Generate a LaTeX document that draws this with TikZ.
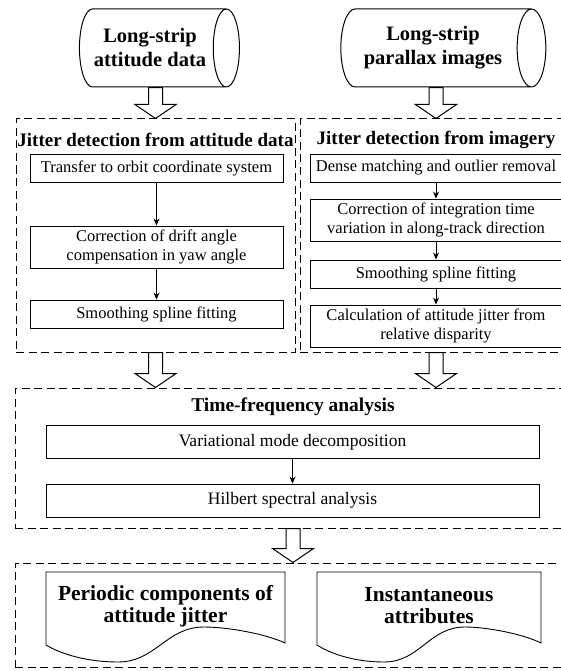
\documentclass[tikz,border=0pt]{standalone}
\usepackage{fontspec}
\setmainfont{Liberation Serif}
\usetikzlibrary{shapes.geometric,arrows.meta,calc}

% hollow down arrow between two groups: #1 top point, #2 tip point
\newcommand{\bigdown}[2]{%
  \draw[blockarrow] ($(#1)+(-7,0)$) -- ($(#2)+(-7,-14)$) -- ($(#2)+(-20.5,-14)$) -- (#2)
    -- ($(#2)+(20.5,-14)$) -- ($(#2)+(7,-14)$) -- ($(#1)+(7,0)$) -- cycle;}

\begin{document}
\begin{tikzpicture}[
    x=1pt, y=-1pt,
    every node/.style={font=\fontsize{16.5}{18.5}\selectfont},
    source/.style={cylinder, draw, line width=1pt, shape aspect=0.58,
                   minimum width=78pt, align=center,
                   font=\bfseries\fontsize{20.5}{24}\selectfont},
    group/.style={draw, line width=1pt, dash pattern=on 8pt off 4.5pt, inner sep=0pt},
    stepbox/.style={draw, line width=0.9pt, align=center, inner sep=0pt},
    wide/.style={stepbox, minimum width=493pt, minimum height=33pt,
                 font=\fontsize{17.5}{19}\selectfont},
    head/.style={font=\bfseries\fontsize{19}{22}\selectfont},
    result/.style={align=center, font=\bfseries\fontsize{21.5}{22}\selectfont},
    docline/.style={draw, line width=0.9pt},
    edge/.style={-{Stealth[length=7pt,width=6pt]}, line width=0.9pt},
    blockarrow/.style={draw, line width=1pt, fill=white}
]
    \clip (0,0) rectangle (561,671);
    % input data
    \node[source, minimum height=160pt] (cylAtt) at (150,48) {Long-strip\\attitude data};
    \node[source, minimum height=205pt] (cylImg) at (433,48) {Long-strip\\parallax images};
    % detection groups
    \node[group, minimum width=279pt, minimum height=233pt] (gAtt) at (155.5,235.5) {};
    \node[group, minimum width=272pt, minimum height=233pt] (gImg) at (436,235.5) {};
    \node[head] (hAtt) at (155.5,140) {Jitter detection from attitude data};
    \node[head] (hImg) at (436,140) {Jitter detection from imagery};
    % attitude steps
    \node[stepbox, minimum width=253pt, minimum height=28pt] (a1) at (156.5,168) {Transfer to orbit coordinate system};
    \node[stepbox, minimum width=253pt, minimum height=42pt] (a2) at (156.5,247) {Correction of drift angle\\compensation in yaw angle};
    \node[stepbox, minimum width=253pt, minimum height=28pt] (a3) at (156.5,314) {Smoothing spline fitting};
    % imagery steps
    \node[stepbox, minimum width=252pt, minimum height=28pt] (i1) at (436,168) {Dense matching and outlier removal};
    \node[stepbox, minimum width=252pt, minimum height=42pt] (i2) at (436,220) {Correction of integration time\\variation in along-track direction};
    \node[stepbox, minimum width=252pt, minimum height=28pt] (i3) at (436,274) {Smoothing spline fitting};
    \node[stepbox, minimum width=252pt, minimum height=42pt] (i4) at (436,326) {Calculation of attitude jitter from\\relative disparity};
    % time-frequency group
    \node[group, minimum width=556pt, minimum height=140pt] (gTF) at (293,458) {};
    \node[head, font=\bfseries\fontsize{19.5}{22}\selectfont] (hTF) at (293,407) {Time-frequency analysis};
    \node[wide] (t1) at (292.5,442) {Variational mode decomposition};
    \node[wide] (t2) at (292.5,500.5) {Hilbert spectral analysis};
    % results group
    \node[group, minimum width=556pt, minimum height=104pt] (gOut) at (293,615) {};
    \draw[docline] (46,645) -- (46,572) -- (285,572) -- (285,643)
        .. controls (266,634) and (228,627) .. (204,627)
        .. controls (166,627) and (156,662) .. (118,662)
        .. controls (89,662) and (62.7,655) .. (46,645) -- cycle;
    \draw[docline] (317,645) -- (317,572) -- (541,572) -- (541,643)
        .. controls (523,634) and (487,627) .. (465,627)
        .. controls (429,627) and (420,662) .. (384,662)
        .. controls (357,662) and (332.7,655) .. (317,645) -- cycle;
    \node[result] (outJit) at (165.5,606) {Periodic components of\\attitude jitter};
    \node[result] (outAttr) at (429,606) {Instantaneous\\attributes};
    % edges
    \draw[edge] (a1) -- (a2);
    \draw[edge] (a2) -- (a3);
    \draw[edge] (i1) -- (i2);
    \draw[edge] (i2) -- (i3);
    \draw[edge] (i3) -- (i4);
    \draw[edge] (t1) -- (t2);
    % block arrows
    \coordinate (top1) at (cylAtt.south -| gAtt.north);
    \coordinate (top2) at (cylImg.south -| gImg.north);
    \bigdown{top1}{gAtt.north}
    \bigdown{top2}{gImg.north}
    \bigdown{gAtt.south}{gAtt.south |- gTF.north}
    \bigdown{gImg.south}{gImg.south |- gTF.north}
    \bigdown{gTF.south}{gOut.north}
\end{tikzpicture}
\end{document}
